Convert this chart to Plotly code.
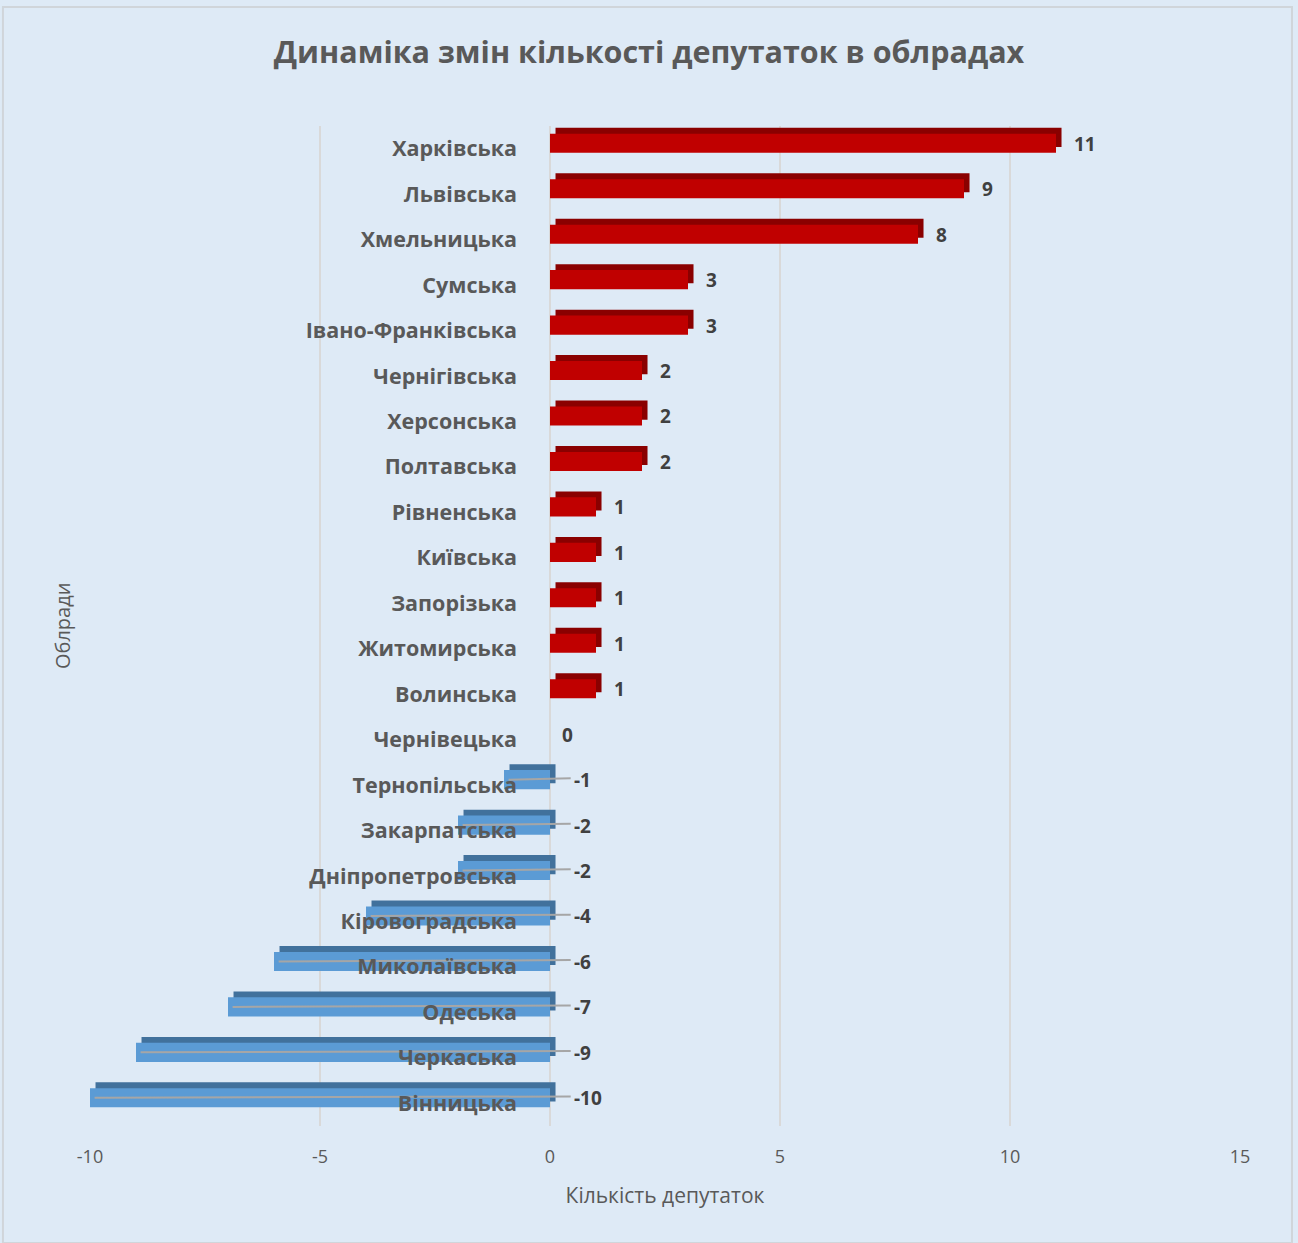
import plotly.graph_objects as go

regions = ['Харківська', 'Львівська', 'Хмельницька', 'Сумська', 'Івано-Франківська',
           'Чернігівська', 'Херсонська', 'Полтавська', 'Рівненська', 'Київська',
           'Запорізька', 'Житомирська', 'Волинська', 'Чернівецька', 'Тернопільська',
           'Закарпатська', 'Дніпропетровська', 'Кіровоградська', 'Миколаївська',
           'Одеська', 'Черкаська', 'Вінницька']
changes = [11, 9, 8, 3, 3, 2, 2, 2, 1, 1, 1, 1, 1, 0, -1, -2, -2, -4, -6, -7, -9, -10]
x_ticks = [-10, -5, 0, 5, 10, 15]

FONT = 'Open Sans'
GREY = '#595959'
BG = '#deeaf6'

pos = list(range(len(regions)))
front = ['#c00000' if v > 0 else '#5b9bd5' for v in changes]
back = ['#8a0000' if v > 0 else '#41719c' for v in changes]

# fake 3d depth: darker copy shifted right and up
dx, dy = 0.12, 0.13
bw, lift = 0.42, 0.12

back_bar = go.Bar(
    y=pos, x=[abs(v) for v in changes],
    base=[min(v, 0) + dx for v in changes],
    orientation='h', width=bw, offset=-bw / 2 - lift - dy,
    marker={'color': back, 'line': {'width': 0}},
    hoverinfo='skip', showlegend=False)

front_bar = go.Bar(
    y=pos, x=[abs(v) for v in changes],
    base=[min(v, 0) for v in changes],
    orientation='h', width=bw, offset=-bw / 2 - lift,
    marker={'color': front, 'line': {'width': 0}},
    customdata=changes, hovertemplate='%{customdata}<extra></extra>',
    showlegend=False)

# leader lines for labels of negative bars
lx, ly = [], []
for p, v in zip(pos, changes):
    if v < 0:
        lx += [v + 0.1, 0.45, None]
        ly += [p - lift, p - lift - 0.03, None]
leaders = go.Scatter(x=lx, y=ly, mode='lines',
                     line={'color': '#a6a6a6', 'width': 2},
                     hoverinfo='skip', showlegend=False)

annotations = []
for p, v in zip(pos, changes):
    annotations.append(dict(
        x=max(v, 0) + (dx if v > 0 else 0), y=p, xref='x', yref='y',
        text=str(v), showarrow=False, xanchor='left',
        xshift=10 if v > 0 else (10 if v == 0 else 22), yshift=5,
        font={'family': FONT, 'size': 19, 'color': '#404040', 'weight': 'bold'}))

annotations.append(dict(
    x=-0.0243, y=0.5, xref='paper', yref='paper', text='Облради',
    textangle=-90, showarrow=False, xanchor='center', yanchor='middle',
    font={'family': FONT, 'size': 20, 'color': GREY}))

fig = go.Figure(data=[back_bar, front_bar, leaders])

fig.update_layout(
    width=1298, height=1243,
    margin={'l': 90, 'r': 58, 't': 126, 'b': 117},
    paper_bgcolor=BG, plot_bgcolor=BG,
    barmode='overlay',
    title={'text': 'Динаміка змін кількості депутаток в облрадах',
           'x': 0.5, 'xanchor': 'center', 'y': 1 - 52 / 1243, 'yanchor': 'middle',
           'font': {'family': FONT, 'size': 30.5, 'color': GREY, 'weight': 'bold'}},
    xaxis={'range': [-10, 15], 'tickvals': x_ticks,
           'ticktext': [str(t) for t in x_ticks], 'showgrid': True,
           'gridcolor': '#d9d9d9', 'gridwidth': 2, 'zeroline': False,
           'showline': False, 'ticks': '', 'ticklabelstandoff': 18,
           'tickfont': {'family': FONT, 'size': 18, 'color': GREY},
           'title': {'text': 'Кількість депутаток', 'standoff': 21,
                     'font': {'family': FONT, 'size': 21, 'color': GREY}}},
    yaxis={'tickvals': pos, 'ticktext': regions, 'autorange': False,
           'range': [len(regions) - 0.5, -0.5],
           'anchor': 'free', 'position': 0.4, 'side': 'left',
           'showgrid': False, 'zeroline': False, 'showline': False,
           'ticks': '', 'ticklabelstandoff': 33,
           'tickfont': {'family': FONT, 'size': 21.5, 'color': GREY, 'weight': 'bold'}},
    annotations=annotations,
    shapes=[dict(type='rect', xref='paper', yref='paper',
                 x0=-0.0757, x1=1.0452, y0=-0.117, y1=1.119,
                 line={'color': '#d0d5da', 'width': 2}, layer='below')],
)

fig.write_html('out.html', config={'displayModeBar': False},
               post_script="document.body.style.margin = '0px';")
